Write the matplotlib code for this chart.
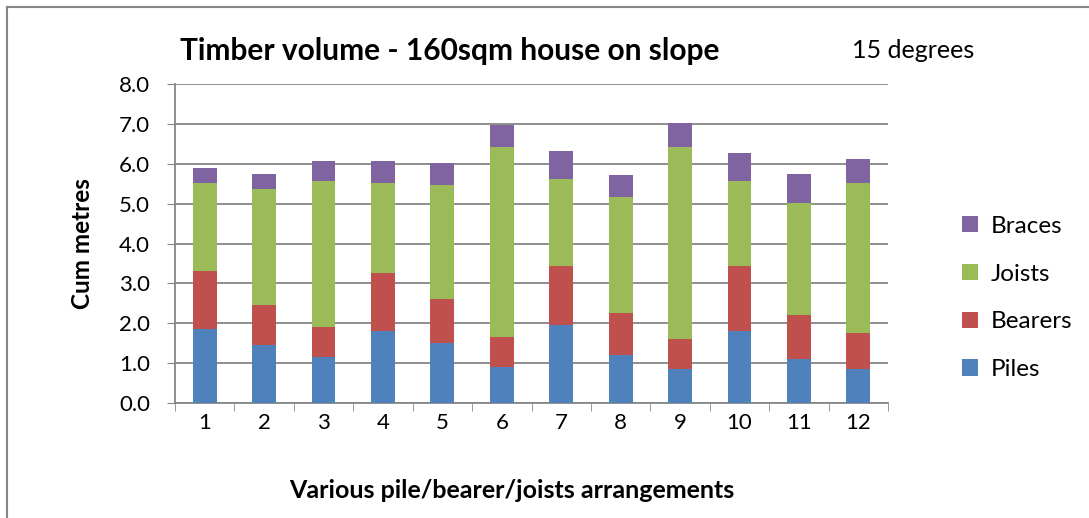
import matplotlib.pyplot as plt
from matplotlib.lines import Line2D
import numpy as np

categories = ['1', '2', '3', '4', '5', '6', '7', '8', '9', '10', '11', '12']
piles = [1.85, 1.45, 1.16, 1.80, 1.50, 0.90, 1.95, 1.20, 0.85, 1.80, 1.10, 0.85]
bearers = [1.45, 1.00, 0.74, 1.45, 1.10, 0.75, 1.49, 1.05, 0.75, 1.64, 1.10, 0.90]
joists = [2.21, 2.91, 3.66, 2.26, 2.86, 4.77, 2.17, 2.92, 4.82, 2.12, 2.81, 3.76]
braces = [0.39, 0.39, 0.50, 0.55, 0.55, 0.54, 0.70, 0.54, 0.60, 0.70, 0.74, 0.60]

series = [('Piles', piles, '#4f81bd'),
          ('Bearers', bearers, '#c0504d'),
          ('Joists', joists, '#9bbb59'),
          ('Braces', braces, '#8064a2')]

plt.rcParams['font.family'] = ['Lato', 'DejaVu Sans']

fig = plt.figure(figsize=(10.89, 5.18), dpi=100)
ax = fig.add_axes([175 / 1089, 1 - 403 / 518, (888 - 175) / 1089, (403 - 84) / 518])

x = np.arange(len(categories))
bottom = np.zeros(len(categories))
handles = []
for name, vals, col in series:
    b = ax.bar(x, vals, width=0.4, bottom=bottom, color=col, label=name, zorder=3)
    bottom += np.array(vals)
    handles.append(b)

ax.set_xlim(-0.5, len(categories) - 0.5)
ax.set_ylim(0, 8)
ax.set_yticks(np.arange(0, 8.01, 1.0))
ax.set_yticklabels(['%.1f' % v for v in np.arange(0, 8.01, 1.0)], fontsize=16)
ax.set_xticks(x)
ax.set_xticklabels(categories, fontsize=16)
ax.tick_params(axis='x', length=0, pad=7)
ax.set_xticks(np.arange(-0.5, len(categories), 1.0), minor=True)
ax.tick_params(axis='x', which='minor', length=6, color='#868686', direction='out')
ax.tick_params(axis='y', length=6, color='#868686', direction='out', pad=12)

ax.grid(axis='y', color='#868686', linewidth=1.3, zorder=0)
for s in ['top', 'right']:
    ax.spines[s].set_visible(False)
for s in ['left', 'bottom']:
    ax.spines[s].set_color('#868686')
    ax.spines[s].set_linewidth(1.3)

ax.set_ylabel('Cum metres', fontsize=17.5, fontweight='bold', labelpad=18)
ax.set_xlabel('Various pile/bearer/joists arrangements', fontsize=18,
              fontweight='bold')
ax.xaxis.set_label_coords(0.473, -0.238)

fig.text(450 / 1089, 1 - 51 / 518, 'Timber volume - 160sqm house on slope',
         fontsize=21.5, fontweight='bold', ha='center', va='center')
fig.text(913 / 1089, 1 - 51 / 518, '15 degrees', fontsize=18,
         ha='center', va='center')

leg = fig.legend(handles[::-1], [s[0] for s in series][::-1],
                 loc='center left', bbox_to_anchor=(940 / 1089, 1 - 298 / 518),
                 frameon=False, fontsize=17.5, handlelength=0.65, handleheight=0.65,
                 labelspacing=1.1, handletextpad=0.55)

# outer chart border
fig.add_artist(Line2D([7 / 1089, 7 / 1089], [0, 1 - 7 / 518],
                      transform=fig.transFigure, color='#868686', linewidth=1.5))
fig.add_artist(Line2D([7 / 1089, 1], [1 - 7 / 518, 1 - 7 / 518],
                      transform=fig.transFigure, color='#868686', linewidth=1.5))

fig.savefig('out.png', dpi=100)
